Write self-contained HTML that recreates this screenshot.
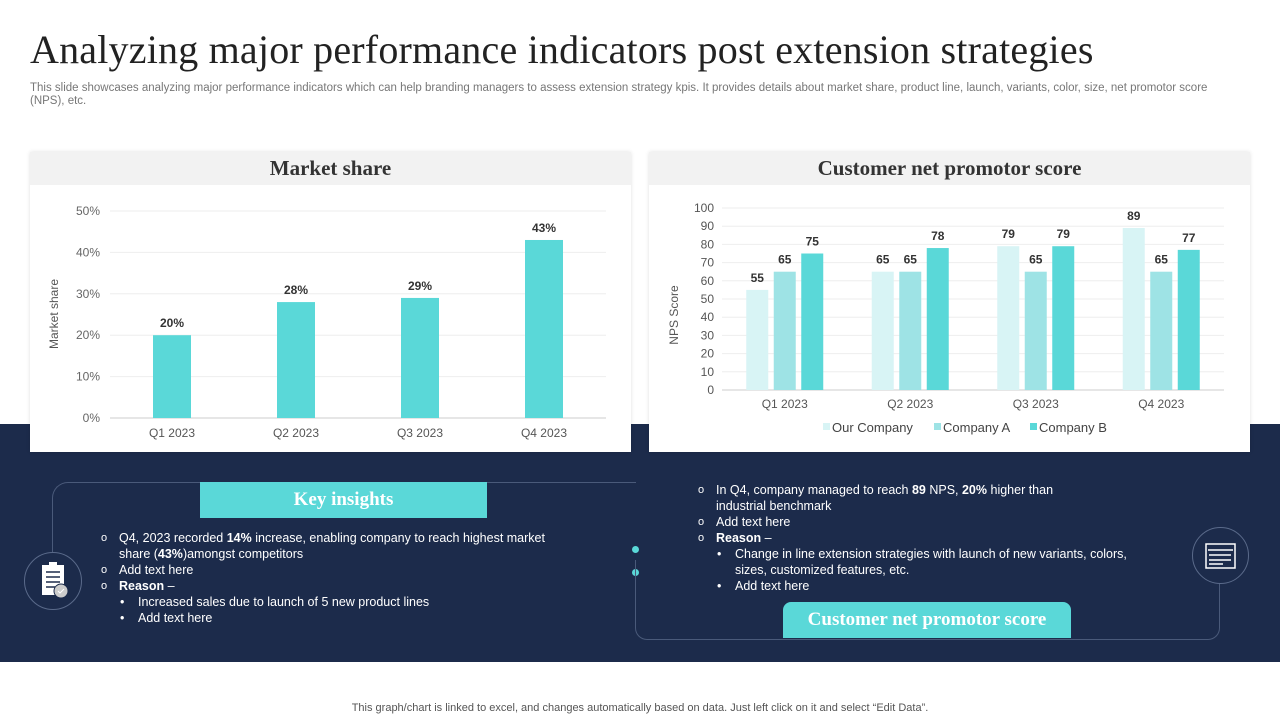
<!DOCTYPE html>
<html><head><meta charset="utf-8">
<style>
*{margin:0;padding:0;box-sizing:border-box}
body{width:1280px;height:720px;background:#fff;position:relative;overflow:hidden;font-family:"Liberation Sans",sans-serif}
.abs{position:absolute}
.title{left:30px;top:26px;font-family:"Liberation Serif",serif;font-size:40px;color:#222;white-space:nowrap;letter-spacing:0.2px}
.sub{left:30px;top:82px;width:1205px;font-size:11.5px;color:#777;line-height:13px}
.band{left:0;top:424px;width:1280px;height:238px;background:#1c2b4b}
.card{background:#fff;box-shadow:0 0 4px rgba(0,0,0,0.12)}
.hdr{background:#f2f2f2;height:33px;text-align:center;font-family:"Liberation Serif",serif;font-weight:bold;font-size:21px;color:#333;line-height:33px}
.tab{background:#5ad8d8;color:#fff;font-family:"Liberation Serif",serif;font-weight:bold;font-size:19px;text-align:center;line-height:36px;height:36px}
.txt{color:#fff;font-size:12.5px;line-height:16px}
.txt div{position:relative}
.o{position:absolute;left:-18px;font-size:11px}
.b{position:absolute;left:-18px}
.foot{left:0;width:1280px;top:702px;text-align:center;font-size:11px;color:#555}
</style></head><body>
<div class="abs title">Analyzing major performance indicators post extension strategies</div>
<div class="abs sub">This slide showcases analyzing major performance indicators which can help branding managers to assess extension strategy kpis. It provides details about market share, product line, launch, variants, color, size, net promotor score (NPS), etc.</div>
<div class="abs band"></div>

<div class="abs card" style="left:30px;top:152px;width:601px;height:300px">
<div class="hdr">Market share</div>
</div>
<div class="abs card" style="left:649px;top:152px;width:601px;height:300px">
<div class="hdr">Customer net promotor score</div>
</div>

<svg class="abs" style="left:0;top:0" width="1280" height="720" id="charts"></svg>

<div class="abs" style="left:52px;top:482px;width:584px;height:70px;border:1px solid #4a5a7a;border-right:none;border-bottom:none;border-radius:16px 0 0 0"></div>
<div class="abs" style="left:24px;top:552px;width:58px;height:58px;border-radius:50%;border:1px solid #5a6a8a;background:#1c2b4b">
<svg width="58" height="58"><rect x="17" y="12" width="22" height="30" fill="#fff"/><rect x="24" y="9" width="8" height="5" fill="#fff"/><g stroke="#1c2b4b" stroke-width="1.5"><line x1="21" y1="19" x2="35" y2="19"/><line x1="21" y1="24" x2="35" y2="24"/><line x1="21" y1="29" x2="35" y2="29"/><line x1="21" y1="34" x2="30" y2="34"/></g><circle cx="36" cy="38" r="7" fill="#ccc" stroke="#1c2b4b"/><path d="M33 38l2 2 4-4" stroke="#fff" fill="none"/></svg></div>
<div class="abs tab" style="left:200px;top:482px;width:287px">Key insights</div>
<div class="abs txt" style="left:119px;top:530px;width:460px">
<div><span class="o">o</span>Q4, 2023 recorded <b>14%</b> increase, enabling company to reach highest market share (<b>43%</b>)amongst competitors</div>
<div><span class="o">o</span>Add text here</div>
<div><span class="o">o</span><b>Reason</b> –</div>
<div style="margin-left:19px"><span class="b">•</span>Increased sales due to launch of 5 new product lines</div>
<div style="margin-left:19px"><span class="b">•</span>Add text here</div>
</div>
<div class="abs" style="left:632px;top:546px;width:7px;height:7px;border-radius:50%;background:#5ad8d8"></div>
<div class="abs" style="left:632px;top:569px;width:7px;height:7px;border-radius:50%;background:#5ad8d8"></div>

<div class="abs" style="left:635px;top:560px;width:585px;height:80px;border:1px solid #4a5a7a;border-top:none;border-radius:0 0 12px 12px"></div>
<div class="abs" style="left:1192px;top:527px;width:57px;height:57px;border-radius:50%;border:1px solid #5a6a8a;background:#1c2b4b">
<svg width="57" height="57"><rect x="13" y="16" width="29" height="24" fill="none" stroke="#fff" stroke-width="1.5"/><g stroke="#fff" stroke-width="1.5"><line x1="15" y1="22" x2="40" y2="22"/><line x1="16" y1="27" x2="38" y2="27"/><line x1="16" y1="32" x2="38" y2="32"/><line x1="16" y1="36" x2="30" y2="36"/></g></svg></div>
<div class="abs txt" style="left:716px;top:482px;width:440px">
<div style="width:365px"><span class="o">o</span>In Q4, company managed to reach <b>89</b> NPS, <b>20%</b> higher than industrial benchmark</div>
<div><span class="o">o</span>Add text here</div>
<div><span class="o">o</span><b>Reason</b> –</div>
<div style="margin-left:19px"><span class="b">•</span>Change in line extension strategies with launch of new variants, colors, sizes, customized features, etc.</div>
<div style="margin-left:19px"><span class="b">•</span>Add text here</div>
</div>
<div class="abs tab" style="left:783px;top:602px;width:288px;border-radius:8px 8px 0 0">Customer net promotor score</div>

<div class="abs foot">This graph/chart is linked to excel, and changes automatically based on data. Just left click on it and select “Edit Data”.</div>

<script>
const msCategories=["Q1 2023","Q2 2023","Q3 2023","Q4 2023"];
const msValues=[20,28,29,43];
const msTicks=[0,10,20,30,40,50];
const npsCategories=["Q1 2023","Q2 2023","Q3 2023","Q4 2023"];
const npsOur=[55,65,79,89];
const npsA=[65,65,65,65];
const npsB=[75,78,79,77];
const npsTicks=[0,10,20,30,40,50,60,70,80,90,100];
const npsSeriesNames=["Our Company","Company A","Company B"];

const svg=document.getElementById('charts');
const NS='http://www.w3.org/2000/svg';
function mk(tag,attrs,text){const e=document.createElementNS(NS,tag);for(const k in attrs)e.setAttribute(k,attrs[k]);if(text!==undefined)e.textContent=text;svg.appendChild(e);return e;}

const mX0=110,mX1=606,mY0=418,mY1=211;
const my=v=>mY0-(v/50)*(mY0-mY1);
const mBand=(mX1-mX0)/msCategories.length;
const mx=i=>mX0+mBand*(i+0.5);
msTicks.forEach(t=>{
 const l=mk('line',{x1:mX0,x2:mX1,y1:my(t),y2:my(t),stroke:t===0?'#ccc':'#eee'});
 
 const tx=mk('text',{x:mX0-10,y:my(t)+4,'text-anchor':'end','font-size':12,fill:'#666'},t+'%');
 
});
msValues.forEach((v,i)=>{
 const r=mk('rect',{x:mx(i)-19,y:my(v),width:38,height:my(0)-my(v),fill:'#5ad8d8'});
 
 const t=mk('text',{x:mx(i),y:my(v)-8,'text-anchor':'middle','font-size':12,'font-weight':'bold',fill:'#333'},v+'%');
 
 const c=mk('text',{x:mx(i),y:437,'text-anchor':'middle','font-size':12,fill:'#555'},msCategories[i]);
 
});
const myt=mk('text',{x:58,y:314,'text-anchor':'middle','font-size':12,fill:'#555',transform:'rotate(-90 58 314)'},'Market share');


const nX0=722,nX1=1224,nY0=390,nY1=208;
const ny=v=>nY0-(v/100)*(nY0-nY1);
const nBand=(nX1-nX0)/npsCategories.length;
const nx=i=>nX0+nBand*(i+0.5);
const colors=['#d8f4f5','#9ee3e5','#5ad8d8'];
const series=[npsOur,npsA,npsB];
npsTicks.forEach(t=>{
 const l=mk('line',{x1:nX0,x2:nX1,y1:ny(t),y2:ny(t),stroke:t===0?'#ccc':'#eee'});
 
 const tx=mk('text',{x:nX0-8,y:ny(t)+4,'text-anchor':'end','font-size':12,fill:'#555'},t);
 
});
npsCategories.forEach((c,i)=>{
 series.forEach((s,j)=>{
  const cx=nx(i)+(j-1)*27.5;
  const r=mk('rect',{x:cx-11,y:ny(s[i]),width:22,height:ny(0)-ny(s[i]),fill:colors[j]});
  
  const t=mk('text',{x:cx,y:ny(s[i])-8,'text-anchor':'middle','font-size':12,'font-weight':'bold',fill:'#333'},s[i]);
  
 });
 const ct=mk('text',{x:nx(i),y:408,'text-anchor':'middle','font-size':12,fill:'#555'},c);
 
});
const nyt=mk('text',{x:678,y:315,'text-anchor':'middle','font-size':12,fill:'#555',transform:'rotate(-90 678 315)'},'NPS Score');

const legX=[823,934,1030];
npsSeriesNames.forEach((n,j)=>{
 const r=mk('rect',{x:legX[j],y:423,width:7,height:7,fill:colors[j]});
 
 const t=mk('text',{x:legX[j]+9,y:432,'font-size':13,fill:'#444'},n);
 
});
</script>
</body></html>
